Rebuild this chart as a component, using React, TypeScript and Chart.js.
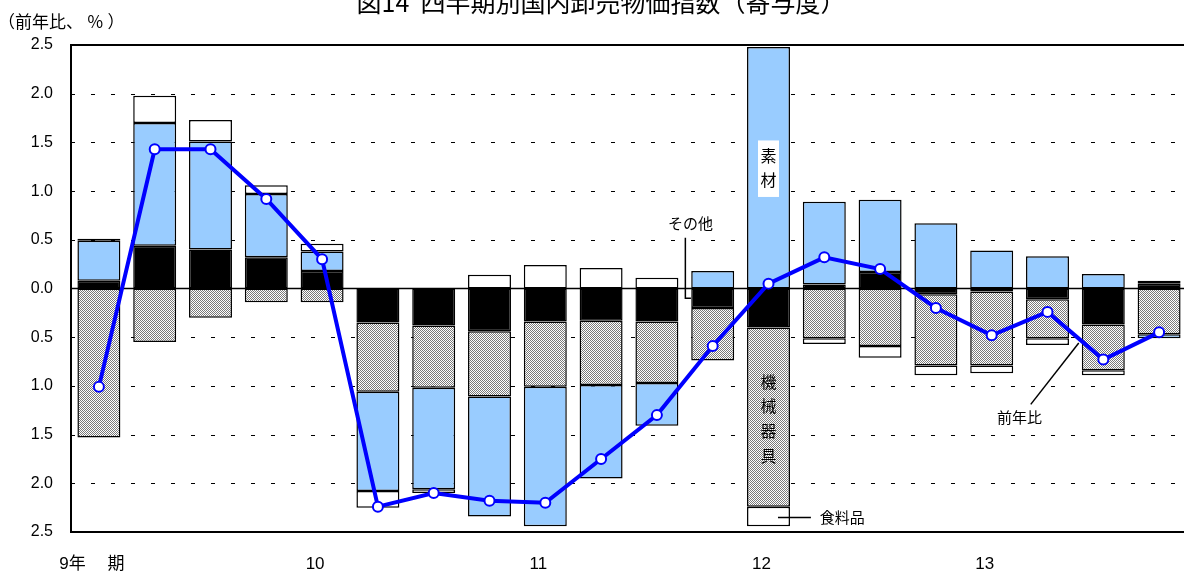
import React, { useEffect, useRef } from 'react';
import { Chart, registerables } from 'chart.js';

Chart.register(...registerables);

// ---- data ----
const categories = ['9年　 期', '', '', '', '10', '', '', '', '11', '', '', '', '12', '', '', '', '13', '', '', ''];
const otherValues = [0.08, 0.44, 0.40, 0.32, 0.18, -0.35, -0.38, -0.44, -0.34, -0.33, -0.34, -0.20, -0.40, 0.04, 0.17, -0.06, -0.03, -0.11, -0.37, 0.05];
const machineryValues = [-1.53, -0.55, -0.30, -0.14, -0.14, -0.71, -0.64, -0.67, -0.67, -0.66, -0.63, -0.54, -1.84, -0.51, -0.59, -0.73, -0.76, -0.40, -0.47, -0.47];
const materialsValues = [0.41, 1.26, 1.11, 0.65, 0.20, -1.02, -1.04, -1.23, -1.43, -0.96, -0.44, 0.18, 2.48, 0.85, 0.74, 0.67, 0.39, 0.33, 0.15, -0.04];
const foodValues = [0.02, 0.28, 0.22, 0.09, 0.08, -0.17, -0.04, 0.14, 0.24, 0.21, 0.11, 0, -0.20, -0.06, -0.12, -0.10, -0.08, -0.07, -0.05, 0.03];
const yoyValues = [-1.01, 1.43, 1.43, 0.92, 0.30, -2.24, -2.10, -2.18, -2.20, -1.75, -1.30, -0.59, 0.05, 0.32, 0.20, -0.20, -0.48, -0.24, -0.73, -0.45];

const seriesNames = ['その他', '機械器具', '素材', '食料品', '前年比'];
const titleText = '図14  四半期別国内卸売物価指数（寄与度）';
const yAxisTitle = '（前年比、 ％ ）';

const yMin = -2.5;
const yMax = 2.5;
const yStep = 0.5;

// in-chart labels anchored in (category index, value) space
const verticalLabels = [
  { chars: ['素', '材'], index: 12, values: [1.36, 1.11], box: [1.52, 0.94] },
  { chars: ['機', '械', '器', '具'], index: 12, values: [-0.96, -1.21, -1.46, -1.72], box: null as null | number[] },
];
const leaderLabels = [
  { text: '食料品', tx: 12.92, ty: -2.35, align: 'left', line: [[12.17, -2.35], [12.76, -2.35]] },
  { text: 'その他', tx: 10.6, ty: 0.67, align: 'center', line: [[10.51, 0.52], [10.51, -0.10], [10.61, -0.10]] },
  { text: '前年比', tx: 16.5, ty: -1.32, align: 'center', line: [[16.7, -1.19], [17.56, -0.56]] },
];

const BLUE = '#99ccff';
const JP = '"Noto Sans CJK JP", "Liberation Sans", sans-serif';

function makeHatch(): CanvasPattern | string {
  const c = document.createElement('canvas');
  c.width = 4;
  c.height = 4;
  const g = c.getContext('2d');
  if (!g) return '#b0b0b0';
  g.fillStyle = '#ffffff';
  g.fillRect(0, 0, 4, 4);
  g.fillStyle = '#7a7a7a';
  for (let yy = 0; yy < 4; yy++) {
    for (let xx = 0; xx < 4; xx++) {
      if ((xx + yy) % 2 === 0) g.fillRect(xx, yy, 1, 1);
    }
  }
  const p = g.createPattern(c, 'repeat');
  return p || '#b0b0b0';
}

const decorPlugin = {
  id: 'decor',
  beforeDatasetsDraw(chart: any) {
    const { ctx, chartArea, scales } = chart;
    const { left, right } = chartArea;
    const y = scales.y;
    ctx.save();
    ctx.strokeStyle = '#000';
    ctx.lineWidth = 1;
    ctx.setLineDash([4, 16]);
    ctx.lineDashOffset = 0;
    y.ticks.forEach((t: any) => {
      if (t.value === 0 || t.value === yMin || t.value === yMax) return;
      const py = Math.round(y.getPixelForValue(t.value)) + 0.5;
      ctx.beginPath();
      ctx.moveTo(left, py);
      ctx.lineTo(right, py);
      ctx.stroke();
    });
    ctx.setLineDash([]);
    ctx.lineWidth = 1.5;
    const zy = y.getPixelForValue(0);
    ctx.beginPath();
    ctx.moveTo(left, zy);
    ctx.lineTo(right, zy);
    ctx.stroke();
    ctx.restore();
  },
  afterDatasetsDraw(chart: any) {
    const { ctx, chartArea, scales } = chart;
    const { left, right, top, bottom } = chartArea;
    const x = scales.x;
    const y = scales.y;
    ctx.save();
    // frame
    ctx.strokeStyle = '#000';
    ctx.lineWidth = 2;
    ctx.beginPath();
    ctx.moveTo(right, top);
    ctx.lineTo(left, top);
    ctx.lineTo(left, bottom);
    ctx.lineTo(right, bottom);
    ctx.lineTo(right, top);
    ctx.stroke();

    // vertical labels
    ctx.textAlign = 'center';
    ctx.textBaseline = 'middle';
    ctx.font = `16px ${JP}`;
    verticalLabels.forEach((lab) => {
      const px = x.getPixelForValue(lab.index);
      if (lab.box) {
        const y1 = y.getPixelForValue(lab.box[0]);
        const y2 = y.getPixelForValue(lab.box[1]);
        ctx.fillStyle = '#fff';
        ctx.fillRect(px - 10.5, y1, 21, y2 - y1);
      }
      ctx.fillStyle = '#000';
      lab.chars.forEach((ch, i) => {
        ctx.fillText(ch, px, y.getPixelForValue(lab.values[i]));
      });
    });

    // leader labels
    ctx.font = `15px ${JP}`;
    leaderLabels.forEach((lab) => {
      ctx.strokeStyle = '#000';
      ctx.lineWidth = 1.5;
      ctx.beginPath();
      lab.line.forEach((pt, i) => {
        const px = x.getPixelForValue(pt[0]);
        const py = y.getPixelForValue(pt[1]);
        if (i === 0) ctx.moveTo(px, py);
        else ctx.lineTo(px, py);
      });
      ctx.stroke();
      ctx.fillStyle = '#000';
      ctx.textAlign = lab.align as CanvasTextAlign;
      ctx.textBaseline = 'middle';
      ctx.fillText(lab.text, x.getPixelForValue(lab.tx), y.getPixelForValue(lab.ty));
    });
    ctx.restore();
  },
  afterDraw(chart: any) {
    const { ctx } = chart;
    ctx.save();
    ctx.fillStyle = '#000';
    ctx.textBaseline = 'alphabetic';
    ctx.font = `25px ${JP}`;
    ctx.textAlign = 'center';
    ctx.fillText(titleText, 601, 12);
    ctx.font = `17px ${JP}`;
    ctx.textAlign = 'left';
    ctx.fillText(yAxisTitle, -2, 28);
    ctx.restore();
  },
};

export default function App() {
  const ref = useRef<HTMLCanvasElement | null>(null);

  useEffect(() => {
    if (!ref.current) return;
    const hatch = makeHatch();
    const nz = (arr: number[]) => arr.map((v) => (v === 0 ? null : v));
    const barCommon = {
      type: 'bar' as const,
      stack: 'bars',
      order: 1,
      borderColor: '#000',
      borderWidth: 1.5,
      borderSkipped: false,
      barPercentage: 0.77,
      categoryPercentage: 1,
    };
    const chart = new Chart(ref.current, {
      data: {
        labels: categories,
        datasets: [
          { ...barCommon, label: seriesNames[0], data: nz(otherValues), backgroundColor: '#000' },
          { ...barCommon, label: seriesNames[1], data: nz(machineryValues), backgroundColor: hatch as any },
          { ...barCommon, label: seriesNames[2], data: nz(materialsValues), backgroundColor: BLUE },
          { ...barCommon, label: seriesNames[3], data: nz(foodValues), backgroundColor: '#fff' },
          {
            type: 'line' as const,
            label: seriesNames[4],
            data: yoyValues,
            stack: 'line',
            order: 0,
            borderColor: '#0000ff',
            borderWidth: 4,
            pointRadius: 5,
            pointBackgroundColor: '#fff',
            pointBorderColor: '#0000ff',
            pointBorderWidth: 2,
            tension: 0,
          } as any,
        ],
      } as any,
      options: {
        responsive: false,
        animation: false,
        devicePixelRatio: 1,
        layout: { padding: { top: 45, left: 0, right: 2, bottom: 0 } },
        plugins: { legend: { display: false }, tooltip: { enabled: false }, title: { display: false } },
        scales: {
          x: {
            stacked: true,
            grid: { display: false, drawTicks: false },
            border: { display: false },
            ticks: {
              autoSkip: false,
              maxRotation: 0,
              minRotation: 0,
              padding: 22,
              labelOffset: -7,
              color: '#000',
              font: { family: '"Liberation Sans", "Noto Sans CJK JP", sans-serif', size: 17 },
            },
            afterFit: (scale: any) => {
              scale.height = 42;
            },
          },
          y: {
            stacked: true,
            min: yMin,
            max: yMax,
            grid: { display: false, drawTicks: false },
            border: { display: false },
            ticks: {
              stepSize: yStep,
              padding: 18,
              color: '#000',
              font: { family: '"Liberation Sans", sans-serif', size: 16 },
              callback: (v: any) => Math.abs(Number(v)).toFixed(1),
            },
            afterFit: (scale: any) => {
              scale.width = 71;
            },
          },
        },
      } as any,
      plugins: [decorPlugin],
    });
    return () => chart.destroy();
  }, []);

  return (
    <div
      style={{
        position: 'fixed',
        left: 0,
        top: 0,
        width: 1184,
        height: 574,
        overflow: 'hidden',
        background: '#fff',
      }}
    >
      <canvas ref={ref} width={1194} height={574} style={{ display: 'block' }} />
    </div>
  );
}
